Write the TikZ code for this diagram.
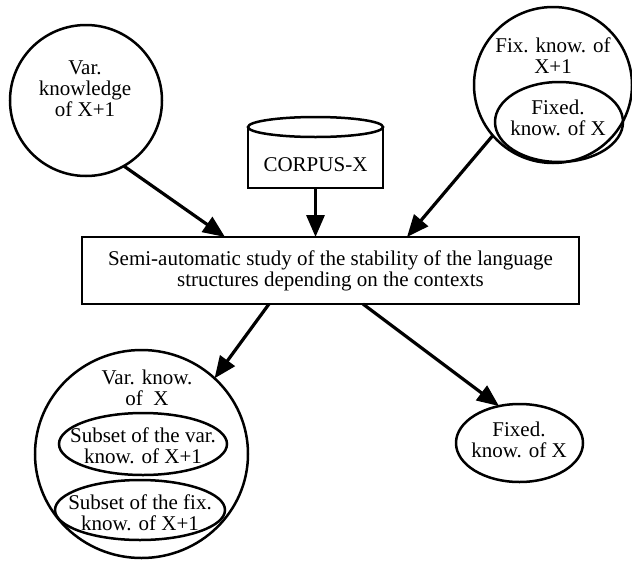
\documentclass[tikz,border=0pt]{standalone}
\usepackage{fontspec}
\setmainfont{Liberation Serif}
\usetikzlibrary{arrows.meta,shapes.geometric}
\begin{document}
\begin{tikzpicture}[x=1pt,y=-1pt,
  shp/.style={draw, line width=2.5pt, ellipse, inner sep=0pt, outer sep=0pt},
  txt/.style={font=\fontsize{21}{21}\selectfont, align=center, inner sep=0pt},
  arr/.style={line width=3.2pt, -{Triangle[length=22pt,width=18pt]}}]
\useasboundingbox (0,0) rectangle (632,560);

% top left
\node[shp, minimum width=152pt, minimum height=151pt] (lv) at (86,100.5) {};
\node[txt] (lvt) at (85,89) {Var.\\knowledge\\of X+1};

% top right
\node[shp, minimum width=158pt, minimum height=156pt] (rf) at (553,85) {};
\node[txt] (rft) at (553,56) {Fix. know. of\\X+1};
\node[shp, minimum width=128pt, minimum height=80pt] (rfi) at (559,122) {};
\node[txt] (rfit) at (558,118) {Fixed.\\know. of X};

% corpus
\node[minimum width=135pt, minimum height=61pt, inner sep=0pt, outer sep=0pt] (corpus) at (315.5,157.5) {};
\draw[line width=2.5pt] (corpus.north west) -- (corpus.south west) -- (corpus.south east) -- (corpus.north east);
\draw[line width=2.5pt, fill=white] (corpus.north) ellipse [x radius=67.5pt, y radius=10pt];
\node[txt] (corpust) at (315.5,165) {CORPUS-X};

% main box
\node[txt, draw, line width=2.5pt, minimum width=497pt, minimum height=67pt, outer sep=0pt] (main) at (330.5,270.5)
  {Semi-automatic study of the stability of the language\\structures depending on the contexts};

% bottom left
\node[shp, minimum width=213pt, minimum height=208pt] (big) at (141.5,454) {};
\node[txt] (bigt) at (147,388) {Var. know.\\of\ \ X};
\node[shp, minimum width=168pt, minimum height=62pt] (sv) at (143,444) {};
\node[txt] (svt) at (143,446) {Subset of the var.\\know. of X+1};
\node[shp, minimum width=170pt, minimum height=60pt] (sf) at (140,510) {};
\node[txt] (sft) at (140,513) {Subset of the fix.\\know. of X+1};

% bottom right
\node[shp, minimum width=127pt, minimum height=78pt] (fx) at (519.5,443) {};
\node[txt] (fxt) at (519,440) {Fixed.\\know. of X};

% arrows
\draw[arr] (lv.-60) -- ([xshift=-105.5pt]main.north);
\draw[arr] (corpus.south) -- (corpus.south |- main.north);
\draw[arr] (rf.-140) -- ([xshift=76.5pt]main.north);
\draw[arr] ([xshift=-61.5pt]main.south) -- (big.46);
\draw[arr] ([xshift=32.5pt]main.south) -- (fx.119);
\end{tikzpicture}
\end{document}
